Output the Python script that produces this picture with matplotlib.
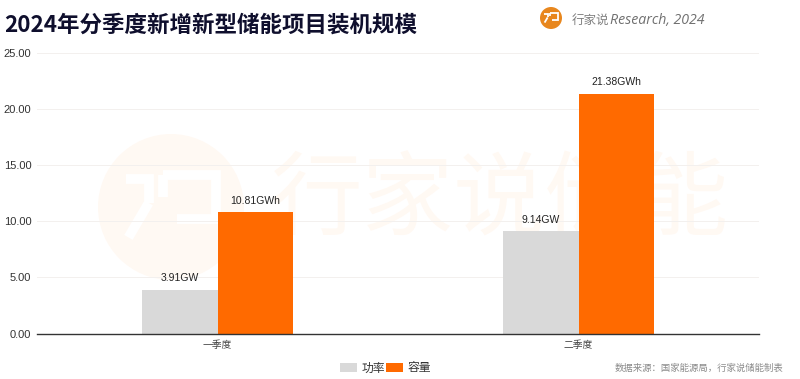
import matplotlib
matplotlib.use('Agg')
import matplotlib.pyplot as plt
from matplotlib.patches import Circle
import numpy as np

plt.rcParams['font.family'] = ['Noto Sans CJK SC', 'DejaVu Sans']

categories = ['一季度', '二季度']
power = [3.91, 9.14]
capacity = [10.81, 21.38]
power_labels = ['3.91GW', '9.14GW']
capacity_labels = ['10.81GWh', '21.38GWh']
yticks = [0, 5, 10, 15, 20, 25]

W, H = 800, 379
fig = plt.figure(figsize=(8, 3.79), dpi=100, facecolor='white')

# whole figure in pixels, for title, logo and watermark
bg = fig.add_axes([0, 0, 1, 1], zorder=0)
bg.set_xlim(0, W)
bg.set_ylim(H, 0)
bg.axis('off')


def draw_logo(cx, cy, r, color, lw):
    # the round badge with its white bracket mark
    bg.add_patch(Circle((cx, cy), r, color=color, lw=0))
    s = r / 72
    for px, py in [([-44, -22, -22], [-28, -28, -4]),
                   ([-22, -42], [-4, 30]),
                   ([-8, 44, 44, 6], [-32, -32, 12, 12]),
                   ([-8, -8], [-32, -10])]:
        bg.plot(cx + np.array(px) * s, cy + np.array(py) * s, color='white', lw=lw,
                solid_capstyle='butt', solid_joinstyle='miter')


# watermark
draw_logo(171, 207, 73, '#fff9f3', 7)
bg.text(500, 203, '行家说储能', fontsize=66, color='#fff9f3', ha='center', va='center')

# title
bg.text(4, 25, '2024年分季度新增新型储能项目装机规模', fontsize=16.2, fontweight='black',
        color='#0f0f2d', ha='left', va='center')

# logo top right
draw_logo(551, 18, 11, '#e8871e', 1.3)
bg.text(572, 20, '行家说', fontsize=9, color='#808080', ha='left', va='center')
bg.text(610, 20, 'Research, 2024', fontsize=10.2, color='#707070', style='italic',
        family=['Open Sans', 'DejaVu Sans'], ha='left', va='center')

# main axes
ax = fig.add_axes([37 / W, 1 - 333.5 / H, 722 / W, 280.5 / H], zorder=1)
ax.patch.set_alpha(0)

x = np.arange(len(categories))
bw = 0.208
bars1 = ax.bar(x - bw / 2, power, bw, color='#d9d9d9', label='功率')
bars2 = ax.bar(x + bw / 2, capacity, bw, color='#ff6a00', label='容量')

for rect, lab in zip(list(bars1) + list(bars2), power_labels + capacity_labels):
    ax.annotate(lab, (rect.get_x() + rect.get_width() / 2, rect.get_height()), xytext=(0, 4.5),
                textcoords='offset points', ha='center', va='bottom', fontsize=7.5, color='#222222',
                family=['Liberation Sans'])

ax.set_xlim(-0.5, 1.5)
ax.set_ylim(0, 25)
ax.set_yticks(yticks)
ax.set_yticklabels(['%.2f' % v for v in yticks], fontsize=8, color='#333333',
                   family=['Liberation Sans'])
ax.set_xticks(x)
ax.set_xticklabels(categories, fontsize=7, color='#444444')
ax.tick_params(axis='both', length=0)
ax.tick_params(axis='x', pad=5)
ax.tick_params(axis='y', pad=4)
ax.grid(axis='y', color='#f3f0ee', lw=0.7)
ax.set_axisbelow(True)
for s in ['top', 'right', 'left']:
    ax.spines[s].set_visible(False)
ax.spines['bottom'].set_color('#333333')
ax.spines['bottom'].set_linewidth(1.0)

fig.legend(handles=[bars1, bars2], loc='center left', bbox_to_anchor=(340 / W, 1 - 368 / H), ncol=2,
           frameon=False, fontsize=8.5, handlelength=1.45, handleheight=0.7, handletextpad=0.35,
           columnspacing=0.1, labelcolor='#333333', borderpad=0, borderaxespad=0)

bg.text(783, 368, '数据来源：国家能源局，行家说储能制表', fontsize=6.75, color='#8a8a8a', ha='right', va='center')

fig.savefig('out.png', dpi=100)
